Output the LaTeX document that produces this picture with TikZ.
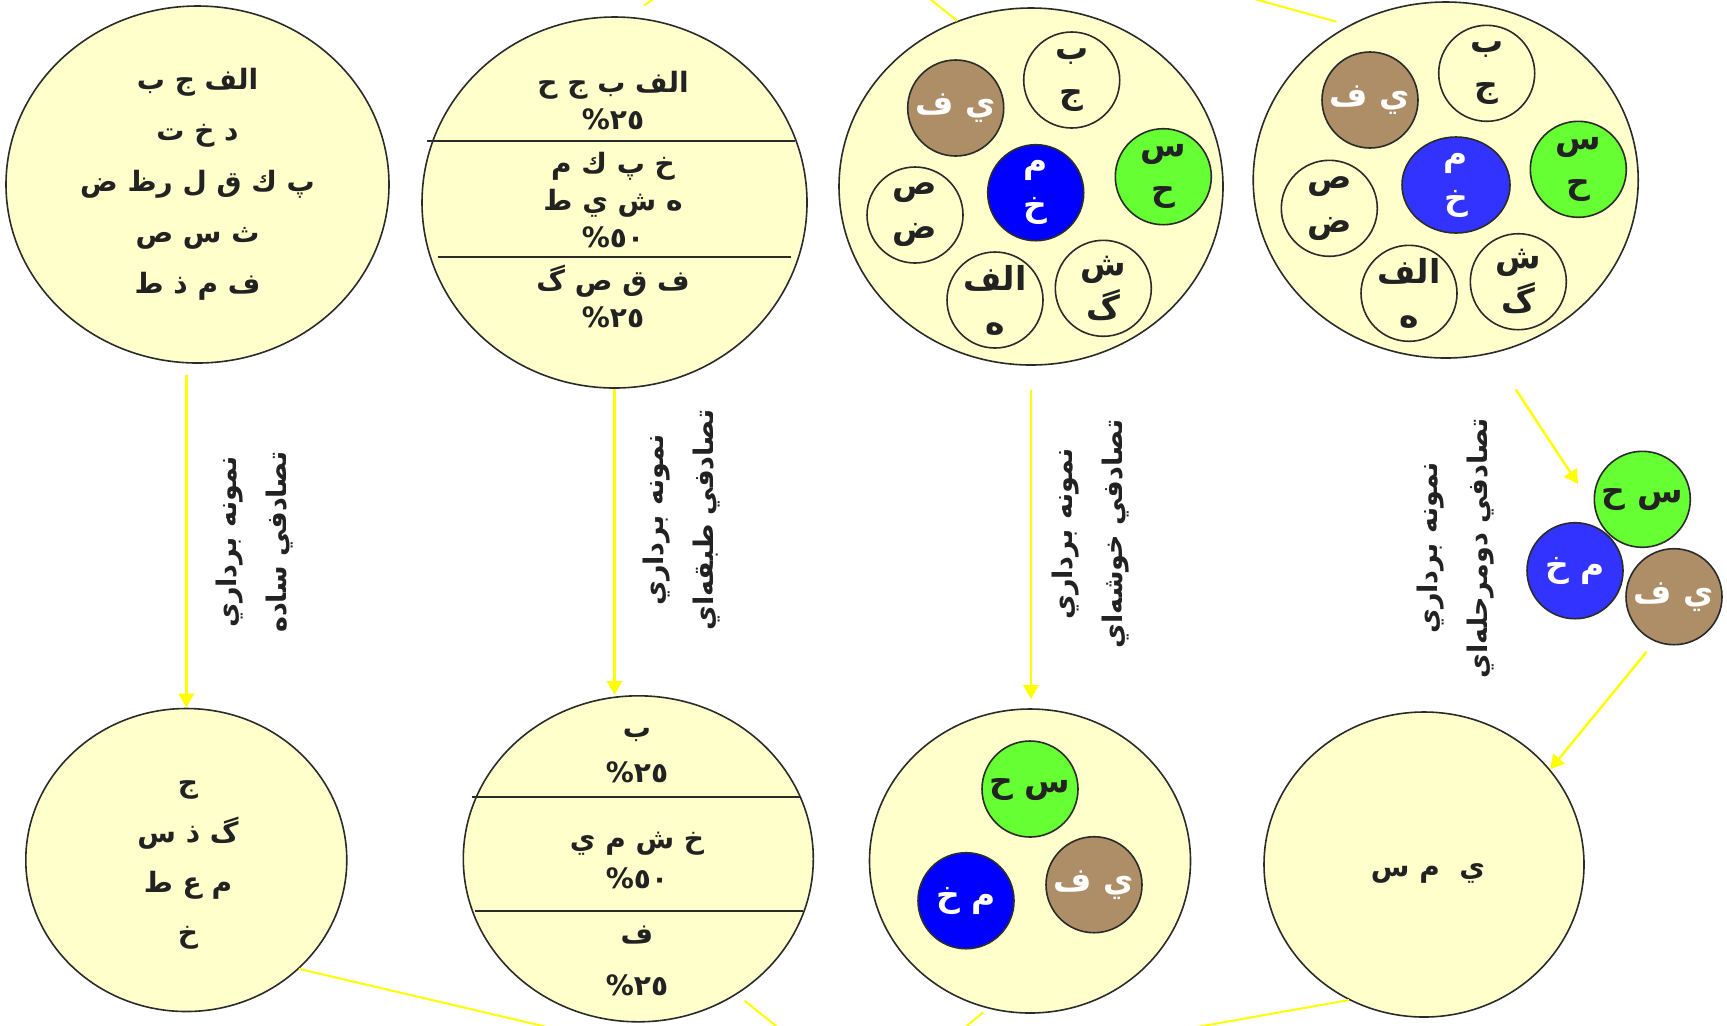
\documentclass[tikz,border=0pt]{standalone}
\usepackage{fontspec}
\newfontfamily\arabicfont[Script=Arabic]{DejaVu Sans}
\TeXXeTstate=1
\usetikzlibrary{positioning,shapes,calc,arrows.meta}

\definecolor{pale}{HTML}{FFFFCC}
\definecolor{edge}{HTML}{2B2B2B}
\definecolor{ink}{HTML}{222222}
\definecolor{sun}{HTML}{FFFF00}
\definecolor{mud}{HTML}{AD8E67}
\definecolor{leaf}{HTML}{66FF33}
\definecolor{royal}{HTML}{0000FF}
\definecolor{soft}{HTML}{3333FF}

\begin{document}
\begin{tikzpicture}[x=0.5pt,y=-0.5pt,
    big node/.style={ellipse,draw=edge,fill=pale,line width=0.8pt,inner sep=0pt},
    small node/.style={circle,draw=edge,fill=pale,line width=0.8pt,inner sep=0pt,
                       minimum size=48pt,label={[letters]center:#1}},
    white node/.style={circle,draw=edge,line width=0.8pt,inner sep=0pt,
                       minimum size=48pt,label={[letters,text=white]center:#1}},
    letters/.style={align=center,text=ink,font=\arabicfont\bfseries\fontsize{16.5}{22}\selectfont},
    body text/.style={align=center,text=ink,font=\arabicfont\bfseries\fontsize{14}{25.5}\selectfont},
    part text/.style={align=center,text=ink,font=\arabicfont\bfseries\fontsize{14}{18.5}\selectfont},
    side text/.style={align=center,text=ink,rotate=90,font=\arabicfont\bfseries\fontsize{13.5}{25}\selectfont},
    go/.style={draw=sun,line width=1.2pt,-{Triangle[length=7pt,width=7.5pt]}},
    tie/.style={draw=sun,line width=1pt},
    cut/.style={draw=edge,line width=0.9pt}
  ]
  \useasboundingbox (0,0) rectangle (1727,1025);
  \fill[white] (0,0) rectangle (1727,1025);

  % populations
  \node[big node,minimum width=191.5pt,minimum height=178.5pt] (a) at (197.5,184.5) {};
  \node[big node,minimum width=192.5pt,minimum height=185.5pt] (b) at (614.5,202.5) {};
  \node[big node,minimum width=192pt,minimum height=178.5pt] (c) at (1031,186.5) {};
  \node[big node,minimum width=192.5pt,minimum height=178pt] (d) at (1445.7,180) {};
  % samples
  \node[big node,minimum width=160.5pt,minimum height=151.5pt] (e) at (186.3,860) {};
  \node[big node,minimum width=175pt,minimum height=163pt] (f) at (638.3,858.8) {};
  \node[big node,minimum width=160.5pt,minimum height=152pt] (g) at (1030,861) {};
  \node[big node,minimum width=160pt,minimum height=152.5pt] (h) at (1424,864.5) {};

  \node[body text] (at) at (a) {\beginR الف ج ب\endR\\\beginR د خ ت\endR\\\beginR پ ك ق ل رظ ض\endR\\\beginR ث س ص\endR\\\beginR ف م ذ ط\endR};

  \draw[cut] (427,141) -- (795,141);
  \draw[cut] (438,257) -- (791,257);
  \node[part text] (b1) at (613,101) {\beginR الف ب ج ح\endR\\٢٥\%};
  \node[part text] (b2) at (613,200) {\beginR خ پ ك م\endR\\\beginR ه ش ي ط\endR\\٥٠\%};
  \node[part text] (b3) at (613,296) {\beginR ف ق ص گ\endR\\٢٥\%};

  \node[white node={\beginR ي ف\endR},fill=mud] (c1) at (955.7,108) {};
  \node[small node={ب\\ج}] (c2) at (1071.7,80) {};
  \node[white node={م\\خ},fill=royal] (c3) at (1035.7,192.7) {};
  \node[small node={س\\ح},fill=leaf] (c4) at (1163.3,176.7) {};
  \node[small node={ص\\ض}] (c5) at (915,215) {};
  \node[small node={الف\\ه}] (c6) at (995,300) {};
  \node[small node={ش\\گ}] (c7) at (1103.3,288.3) {};

  \node[white node={\beginR ي ف\endR},fill=mud] (d1) at (1370,100) {};
  \node[small node={ب\\ج}] (d2) at (1486.7,73.3) {};
  \node[white node={م\\خ},ellipse,minimum width=54pt,fill=soft] (d3) at (1456,185) {};
  \node[small node={س\\ح},fill=leaf] (d4) at (1578.3,169.3) {};
  \node[small node={ص\\ض}] (d5) at (1329.3,208.3) {};
  \node[small node={الف\\ه}] (d6) at (1409,293.3) {};
  \node[small node={ش\\گ}] (d7) at (1518.3,281.7) {};

  % chosen clusters
  \node[small node={\beginR س ح\endR},fill=leaf] (k1) at (1642.3,499.3) {};
  \node[white node={\beginR م خ\endR},fill=soft] (k2) at (1575,570.7) {};
  \node[white node={\beginR ي ف\endR},fill=mud] (k3) at (1674,596.7) {};

  \node[body text,font=\arabicfont\bfseries\fontsize{14}{25}\selectfont] (et) at (188,865) {ج\\\beginR گ ذ س\endR\\\beginR م ع ط\endR\\خ};

  \draw[cut] (472,797) -- (800,797);
  \draw[cut] (475,911) -- (803,911);
  \node[part text,font=\arabicfont\bfseries\fontsize{14}{22.5}\selectfont] (f1) at (637,756) {ب\\٢٥\%};
  \node[part text,font=\arabicfont\bfseries\fontsize{14}{20}\selectfont] (f2) at (637,860) {\beginR خ ش م ي\endR\\٥٠\%};
  \node[part text,font=\arabicfont\bfseries\fontsize{14}{26}\selectfont] (f3) at (637,961) {ف\\٢٥\%};

  \node[small node={\beginR س ح\endR},fill=leaf] (g1) at (1030,789) {};
  \node[white node={\beginR م خ\endR},fill=royal] (g2) at (966,900.7) {};
  \node[white node={\beginR ي ف\endR},fill=mud] (g3) at (1094,884.7) {};

  \node[body text] (ht) at (1428,873) {\beginR ي\ \ م س\endR};

  % methods
  \node[side text] (l1) at (255,542) {\beginR نمونه برداري\endR\\\beginR تصادفي ساده\endR};
  \node[side text] (l2) at (682,520) {\beginR نمونه برداري\endR\\\beginR تصادفي طبقه‌اي\endR};
  \node[side text] (l3) at (1091,534) {\beginR نمونه برداري\endR\\\beginR تصادفي خوشه‌اي\endR};
  \node[side text] (l4) at (1456,548) {\beginR نمونه برداري\endR\\\beginR تصادفي دومرحله‌اي\endR};

  \coordinate (kd) at (1578,484);
  \draw[go,shorten <=5.5pt] (a.south -| e.north) -- (e.north);
  \draw[go] (b.south) -- (b.south |- f.north);
  \draw[go,shorten <=12pt,shorten >=4.5pt] (c.south) -- (c.south |- g.north);
  \draw[go,shorten <=21.5pt] (d.-75) -- (kd);
  \draw[go,shorten <=6.5pt] (k3.247) -- (h.37);

  % lines leaving the picture
  \coordinate (bx) at (644,5.5);
  \coordinate (cx) at (925,-5);
  \coordinate (dx) at (1240,-5);
  \coordinate (ex) at (560,1030);
  \coordinate (fx) at (781,1030);
  \coordinate (gx) at (962,1030);
  \coordinate (hx) at (1180,1030);
  \draw[tie] (bx) -- ++(9,-6.2);
  \draw[tie] (c.114) -- (cx);
  \draw[tie,shorten <=6.5pt] (d.122) -- (dx);
  \draw[tie] (e.-44) -- (ex);
  \draw[tie,shorten <=5pt] (f.-54) -- (fx);
  \draw[tie,shorten <=3pt] (g.-106) -- (gx);
  \draw[tie] (h.-119) -- (hx);
\end{tikzpicture}
\end{document}
